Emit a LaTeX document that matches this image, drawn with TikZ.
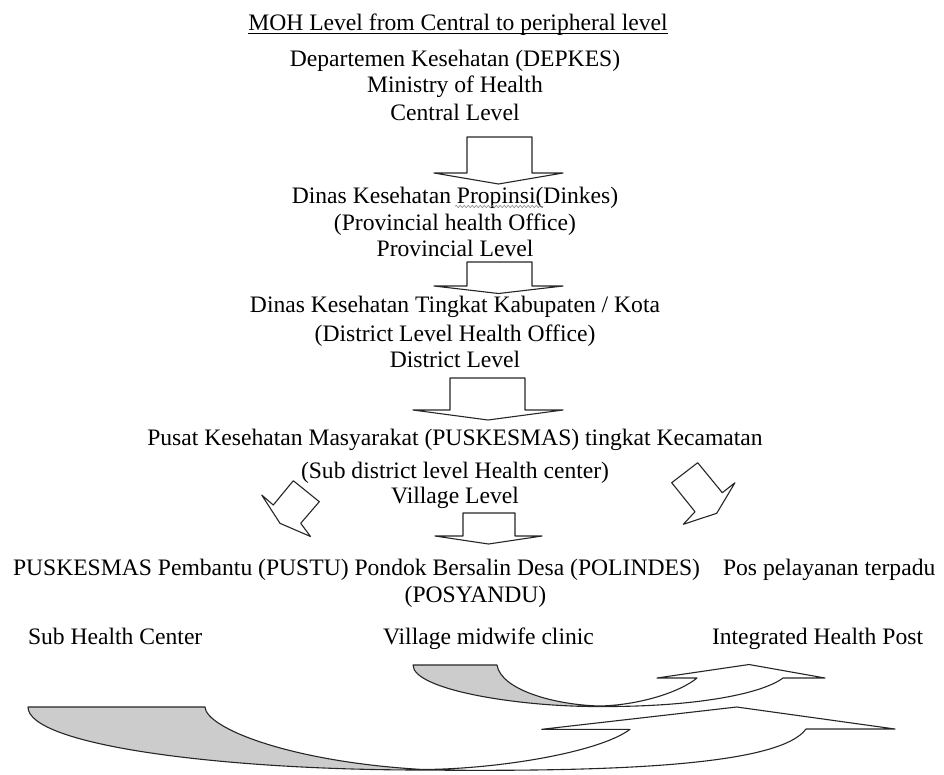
\documentclass[tikz,border=0pt]{standalone}
\usepackage{fontspec}
\setmainfont{Liberation Serif}
\usetikzlibrary{calc,decorations.pathmorphing}
\begin{document}
\begin{tikzpicture}[x=1pt,y=-1pt,
  txt/.style={inner sep=0pt,outer sep=0pt,font=\fontsize{23.6}{28}\selectfont,anchor=base},
  txtw/.style={txt,anchor=base west},
  blk/.style={draw=black!85,line width=1.1pt,line join=round,fill=white},
  edge/.style={draw=black!85,line width=1.1pt,line join=round},
  shadefill/.style={fill=black!20},
  squiggle/.style={draw=black!45,line width=0.6pt,decorate,decoration={snake,amplitude=1.2pt,segment length=4pt}}]
\useasboundingbox (0,0) rectangle (944,774);

% ---- texts ----
\node[txt] (title) at (458,30.5) {MOH Level from Central to peripheral level};
\draw[line width=0.9pt] ($(title.base west)+(0,3)$) -- ($(title.base east)+(0,3)$);
\node[txt] (depkes) at (455,66.7) {Departemen Kesehatan (DEPKES)};
\node[txt] (moh) at (455,92.7) {Ministry of Health};
\node[txt] (central) at (455,120.7) {Central Level};
\node[txt] (dinkes) at (455,203) {Dinas Kesehatan Propinsi(Dinkes)};
\draw[squiggle] (455,206.5) -- (543,206.5);
\node[txt] (pho) at (455,230) {(Provincial health Office)};
\node[txt] (prov) at (455,256) {Provincial Level};
\node[txt] (kab) at (455,312.7) {Dinas Kesehatan Tingkat Kabupaten / Kota};
\node[txt] (dlho) at (455,341.7) {(District Level Health Office)};
\node[txt] (dist) at (455,367.3) {District Level};
\node[txt] (pusk) at (455,445.7) {Pusat Kesehatan Masyarakat (PUSKESMAS) tingkat Kecamatan};
\node[txt] (sdhc) at (455,478.3) {(Sub district level Health center)};
\node[txt] (vill) at (455,503.3) {Village Level};
\node[txtw] (pustu) at (13,575) {PUSKESMAS Pembantu (PUSTU) Pondok Bersalin Desa (POLINDES)};
\node[txtw] (pos) at (723,575) {Pos pelayanan terpadu};
\node[txt] (posy) at (475.5,602.7) {(POSYANDU)};
\node[txtw] (shc) at (28,644) {Sub Health Center};
\node[txtw] (vmc) at (383,644) {Village midwife clinic};
\node[txtw] (ihp) at (712,644) {Integrated Health Post};

% ---- straight block arrows ----
\path[blk] (467,137) -- (532,137) -- (532,173) -- (563,173) -- (498.5,184) -- (434,173) -- (467,173) -- cycle;
\path[blk] (467,262) -- (532,262) -- (532,286) -- (563,286) -- (498.5,293.5) -- (434,286) -- (467,286) -- cycle;
\path[blk] (450,378) -- (525,378) -- (525,410) -- (563,410) -- (488,420) -- (413,410) -- (450,410) -- cycle;
\path[blk] (463,513) -- (515,513) -- (515,536) -- (542,536) -- (488.5,544) -- (435,536) -- (463,536) -- cycle;

% ---- diagonal block arrows ----
\path[blk] (293.3,480.7) -- (319.3,501.7) -- (300.7,523.3) -- (310.5,536.5) -- (280,523.3) -- (261.7,495) -- (273.3,505) -- cycle;
\path[blk] (697.7,462.7) -- (671.7,482.7) -- (695,511.7) -- (683.3,524.3) -- (716.7,513.3) -- (735,482.7) -- (722.3,492.7) -- cycle;

% ---- big curved arrow ----
\fill[shadefill] (28,707) -- (205,707) .. controls (206,728) and (290,762) .. (423,769.5)
  .. controls (220,770) and (28,745) .. (28,707) -- cycle;
\path[edge] (28,707) .. controls (28,745) and (220,770) .. (423,770)
  .. controls (620,772) and (780,765) .. (806,729) -- (895,729) -- (736.7,707)
  -- (541.7,729.3) -- (630,729.3) .. controls (600,752) and (500,769) .. (423,769.5)
  .. controls (290,762) and (206,728) .. (205,707) -- cycle;

% ---- small curved arrow ----
\fill[shadefill] (413,665) -- (497,665) .. controls (501,690) and (555,705) .. (600,706)
  .. controls (520,707) and (413,690) .. (413,665) -- cycle;
\path[edge] (413,665) .. controls (413,690) and (520,707) .. (600,706.5)
  .. controls (690,707) and (760,695) .. (783,678) -- (825,678) -- (749,664.5)
  -- (657,678) -- (697,678) .. controls (680,692) and (640,705) .. (600,706)
  .. controls (555,705) and (501,690) .. (497,665) -- cycle;
\end{tikzpicture}
\end{document}
